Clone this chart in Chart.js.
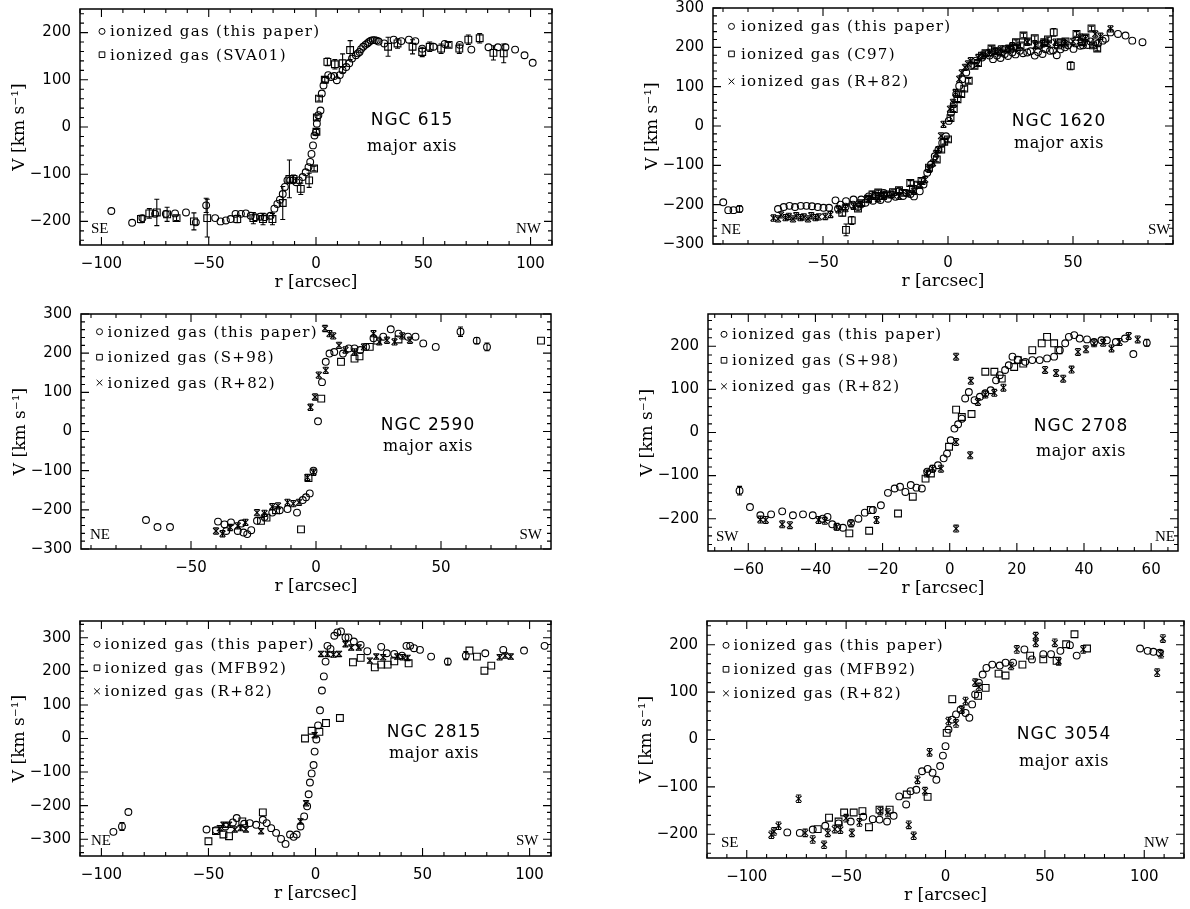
<!DOCTYPE html>
<html>
<head>
<meta charset="utf-8">
<script src="https://cdn.jsdelivr.net/npm/chart.js@4.4.1/dist/chart.umd.min.js"></script>
<style>
  html, body { margin: 0; padding: 0; background: #fff; overflow: hidden; }
  #fig { position: relative; width: 1190px; height: 909px; }
  #fig canvas { position: absolute; }
</style>
</head>
<body>
<div id="fig"></div>
<script>
// values: [r (arcsec), V (km/s), error]
const n615_this = [[-95.4,-178],[-85.7,-203],[-80.9,-193],[-75,-184],[-70,-184],[-65.7,-183],[-60.6,-181],[-56,-202],[-51.2,-166,15],[-47,-193],[-44.5,-200],[-42,-198],[-39.8,-195],[-37.5,-184],[-35,-184],[-32.7,-183],[-30.4,-188],[-28.3,-191],[-26,-190],[-23.9,-191],[-21.2,-188],[-19.4,-173],[-18,-163],[-16.8,-154],[-15.5,-142],[-14.5,-127],[-13.3,-113],[-12,-113],[-10.6,-113],[-9.2,-117],[-8,-113],[-6.2,-106],[-4.8,-96],[-3.5,-85],[-2.7,-74],[-2.1,-57],[-1.4,-39],[-0.7,-18],[0,-11],[0.4,7],[1.1,25],[2.1,35],[2.7,71],[3.5,88],[4.4,100],[5.7,110],[7.1,106],[8.5,108],[9.7,99],[11.1,110],[12.4,120],[14.1,127],[15.5,135],[16.8,145],[18.6,152],[19.5,156],[20.3,159],[21,165],[22,170],[23,174],[23.9,177],[24.7,180],[25.6,183],[26.5,184],[27.4,184],[28.3,183],[29.2,181],[31.8,177],[36.2,185],[39.8,182],[43.3,185],[46.3,182],[49.5,166],[54.8,170],[60,176],[67,174],[72.4,164],[80.4,169],[84.8,169],[88.3,169],[92.8,164],[97.2,152],[101,136]];
const n615_sva01 = [[-81.6,-195,8],[-77.7,-183,10],[-74.2,-181,28],[-69.4,-185,15],[-65,-193,5],[-56.9,-200,18],[-50.7,-193,40],[-36.7,-195,8],[-29.2,-193,12],[-24.7,-195,12],[-20.3,-195,12],[-15.5,-161,35],[-12.4,-110,40],[-10.5,-110,8],[-7.1,-131,12],[-3.2,-113,15],[-0.9,-88,5],[0.2,-10,5],[0.4,20,5],[1.4,60,5],[4.1,100,5],[5.3,138,8],[8.8,133,10],[12.4,135,20],[15.9,163,20],[33.6,170,20],[38,177,10],[45,170,15],[49.5,159,10],[53,170,10],[58.3,166,10],[61.8,174,5],[66.8,166,10],[71,185,10],[76.3,188,10],[82.7,157,15],[87.5,156,20]];

const n1620_this = [[-89.9,-194],[-87.9,-214],[-85.8,-214],[-83.4,-211,8],[-68,-211],[-65.7,-206],[-63.4,-203],[-61.2,-206],[-58.9,-203],[-56.6,-203],[-54.4,-204],[-52.1,-206],[-49.8,-208],[-47.6,-208],[-45,-189],[-44,-210],[-43,-200],[-41,-205],[-40.8,-191],[-38,-200],[-37.8,-187],[-36,-205],[-34.7,-187],[-33,-195],[-31.7,-179],[-30,-190],[-28.7,-179],[-27,-188],[-25.7,-170],[-24,-185],[-22.7,-174],[-21,-180],[-19.6,-166],[-18,-178],[-16.6,-170],[-15,-173],[-13.6,-179],[-11.3,-166],[-9.8,-149],[-8.3,-119],[-6.8,-98],[-5.3,-77],[-3.8,-60],[-2.3,-43],[-0.8,-26],[0.3,13],[1.2,34],[2.3,55],[3.3,81],[4.5,102],[5.7,119],[7.3,136],[9.1,153],[11.3,166],[13.6,174],[16.6,179],[18,170],[19.6,179],[21,173],[22.7,183],[24,178],[25.7,187],[27,182],[28.7,191],[30,185],[31.7,187],[33,190],[34.7,179],[36,188],[37.8,183],[39,195],[40.8,191],[42,192],[43.5,180],[45,195],[46.8,200],[48,205],[50.2,196],[51,210],[52.9,204],[54,205],[55.9,206],[57,215],[58.9,213],[60,210],[61.9,217],[63,222],[65,238],[68,234],[71,230],[73.7,217],[77.8,213]];
const n1620_c97 = [[-42.3,-221,8],[-40.8,-264,15],[-38.5,-240,10],[-36,-210,6],[-34.7,-196,6],[-32,-185,6],[-30.2,-174,8],[-29,-178,8],[-27.9,-169,6],[-26,-178,6],[-24.2,-174,6],[-22,-168,6],[-19.6,-163,6],[-18,-170,6],[-15.1,-145,6],[-14,-160,6],[-12.1,-149,6],[-10.6,-140,6],[-7.6,-106,6],[-4.5,-85,6],[-2.7,-60,6],[-1.5,-40,6],[0,-34,6],[1,20,6],[2.3,43,6],[3.8,68,6],[5.3,81,6],[6.5,95,6],[8.3,115,6],[10.6,153,6],[12,160,6],[13.6,179,6],[15,185,6],[17.4,197,6],[19,190,6],[21.1,187,6],[23,195,6],[24.9,196,6],[26,200,6],[27.2,213,6],[29,205,6],[30.2,230,6],[32,215,6],[34.7,223,6],[36,205,6],[38.5,213,6],[40,220,6],[42.3,238,10],[44,205,6],[45.3,213,6],[47,215,6],[49.1,153,10],[51.4,234,6],[53.6,213,6],[55,225,6],[57.4,248,6],[58,205,6],[59.7,197,6]];
const n1620_r82 = [[-69.8,-234,8],[-68,-236,8],[-66.8,-226,8],[-65,-233,8],[-63.7,-230,8],[-62,-236,8],[-60.7,-228,8],[-59,-233,8],[-57.7,-231,8],[-56,-236,8],[-54.7,-228,8],[-53,-233,8],[-51.7,-231,8],[-49.1,-230,8],[-47,-225,8],[-43.8,-213,8],[-41,-210,8],[-37.8,-204,8],[-35,-200,8],[-31.7,-187,8],[-28,-185,8],[-25.7,-174,8],[-22,-175,8],[-19.6,-179,8],[-16,-172,8],[-13.6,-166,8],[-11,-150,8],[-9.1,-136,8],[-7.5,-110,8],[-6,-94,8],[-4.8,-70,8],[-3.8,-60,8],[-2.8,-25,8],[-1.8,4,8],[0.8,43,8],[2,60,8],[3,85,8],[4.5,119,8],[5.5,135,8],[6.8,149,8],[8,158,8],[9.1,166,8],[12.1,174,8],[14,180,8],[16.6,187,8],[19,190,8],[21.1,196,8],[24,198,8],[25.7,204,8],[28,200,8],[31.7,213,8],[35,205,8],[37.8,209,8],[40,210,8],[43,213,8],[46.8,209,8],[50,215,8],[52.9,226,8],[55,222,8],[58.9,234,8],[61,228,8],[65,247,8]];

const n2590_this = [[-68,-226],[-63.4,-244],[-58.4,-244],[-39.2,-230],[-36.6,-237],[-35.9,-254],[-34,-232],[-31.3,-254],[-29.8,-235],[-29,-258],[-27.5,-262],[-25.9,-252],[-23.6,-228],[-20.6,-218],[-17.5,-207],[-14.5,-201],[-11.4,-198],[-7.6,-207],[-5.3,-175],[-4,-168],[-2.5,-158],[-1,-100],[0.8,26],[2.4,126],[3.9,178],[5.4,199],[7.3,203],[10.8,199],[13.1,212],[15.4,212],[17.7,208],[20,216],[23,238],[26.9,242],[29.9,261],[33,250],[36.8,242],[39.8,242],[42.9,225],[47.9,216],[57.8,255,12],[64.3,232,8],[68.4,216,10]];
const n2590_s98 = [[-22,-228],[-19.8,-220],[-16,-201],[-6,-250],[-3,-119],[2.1,84],[10,178],[15.4,186],[17.4,192],[21.5,216],[24.5,232],[33,235],[90,232]];
const n2590_r82 = [[-40,-254,8],[-37.4,-261,8],[-34.3,-245,8],[-31.3,-241,8],[-28.2,-232,8],[-23.6,-207,8],[-20.6,-209,8],[-17.5,-192,8],[-15.2,-190,8],[-11.4,-181,8],[-9.1,-184,8],[-6.8,-181,8],[-3.4,-117,8],[-1,-104,8],[-2.2,62,8],[-0.4,88,8],[1.1,144,8],[3.9,156,8],[3.6,263,8],[5.4,250,8],[6.9,244,8],[9.2,220,8],[11.8,208,8],[15.4,203,8],[19.2,216,8],[23,250,8],[25.3,229,8],[28.4,233,8],[31.4,229,8],[34.5,244,8],[37.6,233,8]];

const n2708_this = [[-62.6,-135,10],[-59.5,-173],[-56.4,-192],[-53.2,-190],[-49.9,-183],[-46.7,-192],[-43.7,-190],[-40.8,-192],[-37.8,-200],[-36.4,-196],[-35,-213],[-33.5,-219],[-31.8,-221],[-29.4,-210],[-27.2,-200],[-25.3,-186],[-22.9,-180],[-20.5,-169],[-18.4,-140],[-16.4,-130],[-14.8,-126],[-13.2,-138],[-11.6,-122],[-9.9,-128],[-8.3,-130],[-6.7,-91],[-5.1,-84],[-3.5,-76],[-1.8,-60],[-0.8,-49],[0.3,-18],[1.4,9],[2.5,19],[3.6,32],[4.6,79],[5.7,94],[7.4,75],[9,83],[10.6,91],[12.2,98],[13.8,121],[14.9,133],[16.5,145],[17.6,156],[18.7,176],[20.3,169],[22.5,164],[24.6,168],[26.8,168],[29,172],[31.1,176],[32.8,191],[34.4,207],[35.5,222],[37.1,226],[38.7,218],[40.9,216],[43,210],[45.2,214],[46.8,214],[49.5,210],[52.2,218],[54.7,182],[58.7,208,8]];
const n2708_s98 = [[-29.9,-234],[-24,-228],[-23.5,-180],[-15.4,-188],[-11,-149],[-7.2,-107],[-5.6,-95],[-0.2,-33],[1.9,53],[3.6,36],[6.5,43],[10.6,141],[13.3,141],[15.5,125],[19.2,152],[20.3,168],[21.9,160],[24.6,191],[27.4,207],[29,222],[31.1,207],[32.4,191]];
const n2708_r82 = [[-56.4,-202,8],[-54.8,-203,8],[-49.9,-213,8],[-47.6,-215,8],[-39.1,-203,8],[-37.2,-205,8],[-33.7,-219,8],[-29.4,-211,8],[-21.8,-203,8],[-6.9,-95,8],[-5.1,-84,8],[-2.6,-84,8],[1.9,176,8],[1.9,-22,8],[1.9,-223,8],[6.3,120,8],[6.1,-53,8],[8.4,71,8],[10.6,88,8],[13.3,92,8],[16,104,8],[28.4,145,8],[31.7,138,8],[33.8,125,8],[36.3,146,8],[38.2,187,8],[40.6,193,8],[43,207,8],[45.7,208,8],[48.2,195,8],[50.6,210,8],[53.3,224,8],[56,216,8]];

const n2815_this = [[-94.4,-278],[-90.4,-262,12],[-87.4,-219],[-50.9,-271],[-46.5,-273],[-42.1,-262],[-38.6,-250],[-36.8,-237],[-33.3,-254],[-30.7,-252],[-27.7,-257],[-24.6,-242],[-22.8,-252],[-20.7,-267],[-18.4,-281],[-16.1,-299],[-14,-314],[-11.9,-286],[-10.2,-293],[-8.8,-286],[-7,-262],[-5.3,-232],[-3.9,-202],[-3.2,-166],[-2.6,-131],[-1.8,-104],[-0.9,-79],[-0.4,-39],[0.4,-3],[1.2,39],[2.1,84],[3,143],[3.9,185],[4.7,229],[5.6,276],[7,267],[8.8,306],[10.2,316],[11.9,319],[14,301],[15.4,301],[17.9,289],[21.1,279],[24.2,260],[30.7,273],[33.3,254],[36.8,252],[40.4,247],[42.5,276],[44.2,276],[46,269],[48.8,264],[54,244],[61.8,229,10],[70.2,247,12],[79.3,254],[87.7,264],[97.4,262],[107,276]];
const n2815_mfb92 = [[-50,-306],[-46.5,-276],[-43,-286],[-40.4,-291],[-34.2,-247],[-24.6,-220],[-4.9,0],[-1.8,23],[1.8,20],[4.9,46],[11.4,61],[17.5,227],[21.1,240],[27.7,212],[30.7,220],[33.7,220],[36.8,230],[43.5,224],[71.9,262],[75.4,244],[78.9,202],[82.1,217]];
const n2815_r82 = [[-44.7,-267,8],[-43,-257,8],[-40.4,-257,8],[-37.7,-271,8],[-35,-267,8],[-32.5,-271,8],[-25.4,-276,8],[-7,-247,8],[-4.4,-193,8],[-0.4,10,8],[2.6,252,8],[5.6,252,8],[8.4,250,8],[11,252,8],[14,281,8],[16.7,271,8],[20.2,271,8],[25.4,232,8],[28.4,244,8],[31.6,242,8],[38.2,244,8],[40.7,242,8],[43,240,8],[86,242,8],[88.6,247,8],[91.2,244,8]];

const n3054_this = [[-79.6,-196],[-73.3,-197],[-66.8,-190],[-60.5,-182],[-53.8,-177],[-47.7,-173],[-41.4,-163],[-36.6,-168],[-33.2,-169],[-29.4,-173],[-26.1,-161],[-23.3,-120],[-19.8,-137],[-17.6,-109],[-14.7,-106],[-11.8,-67],[-9,-62],[-6.5,-70],[-4.6,-85],[-2.7,-56],[-1.3,-34],[0,-14],[1.5,21],[3.4,42],[5.3,53],[7.6,63],[10.1,56],[12,46],[13.4,74],[14.9,95],[16.8,120],[18.7,137],[20.6,151],[23.5,158],[27.3,156],[30.2,162],[34,162],[39.7,190],[43.5,169],[49.2,180],[53.1,180],[57.8,187],[62.6,199],[66,177],[97.9,192],[101.7,187],[104.6,185],[107.8,183]];
const n3054_mfb92 = [[-64.3,-189],[-58.6,-165],[-53.8,-173],[-51,-154],[-46.2,-154],[-41.8,-151],[-38.5,-185],[-33.2,-148],[-28.1,-148],[-19.5,-116],[-9,-121],[0.6,14],[3.4,85],[16.4,92],[20.2,109],[26.7,139],[30.2,135],[38.7,158],[42.6,177],[49.2,169],[55.9,166],[60.7,201],[64.9,222],[71.2,192]];
const n3054_r82 = [[-87.6,-201,8],[-86.3,-194,8],[-84,-182,8],[-73.9,-125,8],[-70.6,-197,8],[-66.8,-211,8],[-61.1,-222,8],[-59.2,-197,8],[-55.7,-189,8],[-52.9,-190,8],[-50,-166,8],[-47.1,-197,8],[-43.3,-175,8],[-32.8,-151,8],[-29,-154,8],[-18.5,-180,8],[-16,-203,8],[-14.1,-85,8],[-10.3,-109,8],[-8,-27,8],[1.5,39,8],[5.3,34,8],[8.2,63,8],[10.1,81,8],[14.9,120,8],[16.8,111,8],[33,155,8],[35.9,190,8],[45.4,218,8],[45.4,204,8],[55,204,8],[56.9,165,8],[69.3,190,8],[106.5,141,8],[108.4,180,8],[109.4,213,8]];

const LBL_THIS = 'ionized gas (this paper)';

// box = plot frame in page pixels [left, top, right, bottom]
const panels = [
  { name: 'NGC 615', box: [80, 9, 552, 245], x: [-110, 110, 50, 10], y: [-250, 250, 100, 20],
    series: [[LBL_THIS, 'circle', n615_this], ['ionized gas (SVA01)', 'rect', n615_sva01]],
    sides: ['SE', 'NW', 11, 11, 15.5], leg: [22, 30, 22.4, 23.3], tag: [412, 121, 147] },
  { name: 'NGC 1620', box: [713, 8, 1173, 244], x: [-94, 90, 50, 10], y: [-300, 300, 100, 20],
    series: [[LBL_THIS, 'circle', n1620_this], ['ionized gas (C97)', 'rect', n1620_c97], ['ionized gas (R+82)', 'crossRot', n1620_r82]],
    sides: ['NE', 'SW', 8, 2.5, 14], leg: [18.5, 28, 18.4, 27.5], tag: [1059, 122, 144] },
  { name: 'NGC 2590', box: [81, 314, 551, 549], x: [-94, 94, 50, 10], y: [-300, 300, 100, 20],
    series: [[LBL_THIS, 'circle', n2590_this], ['ionized gas (S+98)', 'rect', n2590_s98], ['ionized gas (R+82)', 'crossRot', n2590_r82]],
    sides: ['NE', 'SW', 9, 9, 13.5], leg: [18.5, 26.5, 17.7, 25.5], tag: [428, 426, 447] },
  { name: 'NGC 2708', box: [708, 314, 1178, 551], x: [-72, 68, 20, 5], y: [-275, 275, 100, 20],
    series: [[LBL_THIS, 'circle', n2708_this], ['ionized gas (S+98)', 'rect', n2708_s98], ['ionized gas (R+82)', 'crossRot', n2708_r82]],
    sides: ['SW', 'NE', 8, 3, 14.3], leg: [16, 24, 20.3, 26], tag: [1081, 427, 452] },
  { name: 'NGC 2815', box: [80, 621, 551, 856], x: [-110, 110, 50, 10], y: [-350, 350, 100, 20],
    series: [[LBL_THIS, 'circle', n2815_this], ['ionized gas (MFB92)', 'rect', n2815_mfb92], ['ionized gas (R+82)', 'crossRot', n2815_r82]],
    sides: ['NE', 'SW', 11, 12.5, 15.3], leg: [17, 24.5, 23.3, 23.5], tag: [434, 733, 754] },
  { name: 'NGC 3054', box: [707, 621, 1184, 858], x: [-120, 120, 50, 10], y: [-250, 250, 100, 20],
    series: [[LBL_THIS, 'circle', n3054_this], ['ionized gas (MFB92)', 'rect', n3054_mfb92], ['ionized gas (R+82)', 'crossRot', n3054_r82]],
    sides: ['SE', 'NW', 14, 15, 15.3], leg: [19, 26.5, 24.3, 24], tag: [1064, 735, 762] }
];

// canvas margins around the plot frame (top must exceed chart.js' own label padding)
const PAD = { yw: 80, top: 20, right: 12, xh: 50 };
const RADIUS = { circle: 3.4, rect: 4.8, crossRot: 4.2 };
const fmt = v => String(v).replace('-', '\u2212');

function majorTicks(min, max, step) {
  const out = [];
  for (let v = Math.ceil(min / step) * step; v <= max + 1e-9; v += step) out.push({ value: v });
  return out;
}

function marker(ctx, style, x, y, r) {
  ctx.beginPath();
  if (style === 'circle') {
    ctx.arc(x, y, r, 0, Math.PI * 2);
  } else if (style === 'rect') {
    const s = r * Math.SQRT1_2;
    ctx.rect(x - s, y - s, 2 * s, 2 * s);
  } else {
    const o = r * Math.SQRT1_2;
    ctx.moveTo(x - o, y - o); ctx.lineTo(x + o, y + o);
    ctx.moveTo(x - o, y + o); ctx.lineTo(x + o, y - o);
  }
  ctx.stroke();
}

function framePlugin(p) {
  return {
    id: 'frame',
    afterDatasetsDraw(chart) {
      const { ctx, chartArea: a, scales: { y } } = chart;
      ctx.save();
      ctx.beginPath();
      ctx.rect(a.left, a.top, a.right - a.left, a.bottom - a.top);
      ctx.clip();
      ctx.strokeStyle = '#000';
      ctx.lineWidth = 1.1;
      chart.data.datasets.forEach((ds, i) => {
        const meta = chart.getDatasetMeta(i);
        ds.data.forEach((d, j) => {
          if (!d.e) return;
          const px = meta.data[j].x;
          const y1 = y.getPixelForValue(d.y + d.e), y2 = y.getPixelForValue(d.y - d.e);
          ctx.beginPath();
          ctx.moveTo(px, y1); ctx.lineTo(px, y2);
          ctx.moveTo(px - 2.5, y1); ctx.lineTo(px + 2.5, y1);
          ctx.moveTo(px - 2.5, y2); ctx.lineTo(px + 2.5, y2);
          ctx.stroke();
        });
      });
      ctx.restore();
    },
    afterDraw(chart) {
      const { ctx, chartArea: a, scales: { x, y } } = chart;
      ctx.save();
      ctx.strokeStyle = '#000';
      ctx.lineWidth = 1.5;
      ctx.strokeRect(a.left, a.top, a.right - a.left, a.bottom - a.top);

      // inward major and minor ticks on all four sides
      ctx.lineWidth = 1.1;
      ctx.beginPath();
      const [x0, x1, xM, xm] = p.x, [y0, y1, yM, ym] = p.y;
      for (let v = Math.ceil(x0 / xm) * xm; v <= x1; v += xm) {
        const len = Math.abs(v / xM - Math.round(v / xM)) < 1e-6 ? 8 : 4;
        const px = x.getPixelForValue(v);
        ctx.moveTo(px, a.bottom); ctx.lineTo(px, a.bottom - len);
        ctx.moveTo(px, a.top); ctx.lineTo(px, a.top + len);
      }
      for (let v = Math.ceil(y0 / ym) * ym; v <= y1; v += ym) {
        const len = Math.abs(v / yM - Math.round(v / yM)) < 1e-6 ? 8 : 4;
        const py = y.getPixelForValue(v);
        ctx.moveTo(a.left, py); ctx.lineTo(a.left + len, py);
        ctx.moveTo(a.right, py); ctx.lineTo(a.right - len, py);
      }
      ctx.stroke();

      // legend
      ctx.fillStyle = '#000';
      ctx.textBaseline = 'middle';
      ctx.font = '15px "DejaVu Serif"';
      ctx.letterSpacing = '1.3px';
      p.series.forEach((s, i) => {
        const ly = a.top + p.leg[2] + i * p.leg[3];
        ctx.lineWidth = 1;
        marker(ctx, s[1], a.left + p.leg[0], ly, s[1] === 'circle' ? 3 : 4);
        ctx.textAlign = 'left';
        ctx.fillText(s[0], a.left + p.leg[1], ly + 1);
      });

      // galaxy name
      const ox = p.box[0] - PAD.yw, oy = p.box[1] - PAD.top;
      ctx.textAlign = 'center';
      ctx.font = '17px "DejaVu Sans"';
      ctx.letterSpacing = '1px';
      ctx.fillText(p.name, p.tag[0] - ox, p.tag[1] - oy);
      ctx.font = '16px "DejaVu Serif"';
      ctx.letterSpacing = '0.6px';
      ctx.fillText('major axis', p.tag[0] - ox, p.tag[2] - oy);

      // orientation
      ctx.font = '15px "Liberation Serif"';
      ctx.letterSpacing = '0px';
      const sy = a.bottom - p.sides[4];
      ctx.textAlign = 'left';
      ctx.fillText(p.sides[0], a.left + p.sides[2], sy);
      ctx.textAlign = 'right';
      ctx.fillText(p.sides[1], a.right - p.sides[3], sy);
      ctx.restore();
    }
  };
}

const fig = document.getElementById('fig');

panels.forEach(p => {
  const [L, T, R, B] = p.box;
  const w = R - L + PAD.yw + PAD.right, h = B - T + PAD.top + PAD.xh;
  const cv = document.createElement('canvas');
  cv.width = w; cv.height = h;
  cv.style.left = (L - PAD.yw) + 'px';
  cv.style.top = (T - PAD.top) + 'px';
  cv.style.width = w + 'px';
  cv.style.height = h + 'px';
  fig.appendChild(cv);

  const datasets = p.series.map(s => ({
    label: s[0],
    data: s[2].map(d => ({ x: d[0], y: d[1], e: d[2] || 0 })),
    pointStyle: s[1],
    pointRadius: RADIUS[s[1]],
    pointBorderWidth: 1.1,
    borderColor: '#000',
    backgroundColor: 'rgba(0,0,0,0)',
    showLine: false
  }));

  const tickFont = { family: 'DejaVu Sans', size: 15 };
  const titleFont = { family: 'DejaVu Serif', size: 17 };

  new Chart(cv, {
    type: 'scatter',
    data: { datasets },
    options: {
      responsive: false,
      animation: false,
      devicePixelRatio: 1,
      layout: { padding: { left: 0, top: PAD.top, right: PAD.right, bottom: 0 } },
      plugins: { legend: { display: false }, tooltip: { enabled: false } },
      scales: {
        x: {
          type: 'linear', min: p.x[0], max: p.x[1],
          afterFit: s => { s.height = PAD.xh; },
          afterBuildTicks: s => { s.ticks = majorTicks(p.x[0], p.x[1], p.x[2]); },
          grid: { display: false, drawTicks: false }, border: { display: false },
          ticks: { padding: 10, maxRotation: 0, autoSkip: false, color: '#000', font: tickFont, callback: fmt },
          title: { display: true, text: 'r [arcsec]', color: '#000', font: titleFont, padding: { top: 2, bottom: 2 } }
        },
        y: {
          type: 'linear', min: p.y[0], max: p.y[1],
          afterFit: s => { s.width = PAD.yw; },
          afterBuildTicks: s => { s.ticks = majorTicks(p.y[0], p.y[1], p.y[2]); },
          grid: { display: false, drawTicks: false }, border: { display: false },
          ticks: { padding: 9, color: '#000', font: tickFont, callback: fmt },
          title: { display: true, text: 'V [km s\u207B\u00B9]', color: '#000', font: titleFont, padding: { top: 9, bottom: 0 } }
        }
      }
    },
    plugins: [framePlugin(p)]
  });
});
</script>
</body>
</html>
